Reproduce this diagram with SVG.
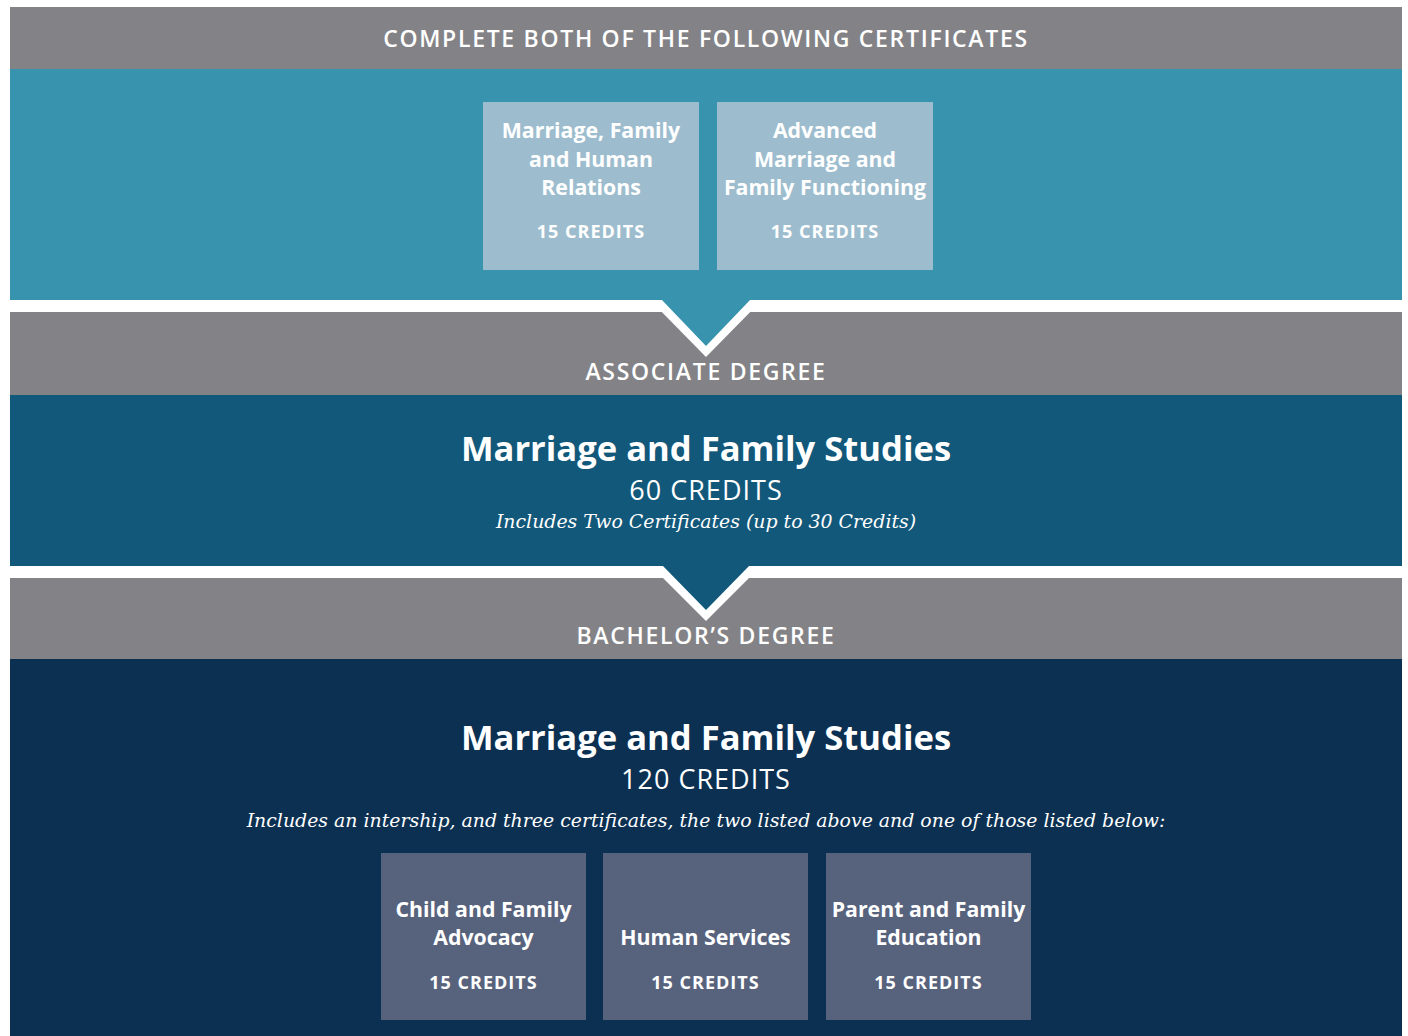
<svg xmlns="http://www.w3.org/2000/svg" width="1408" height="1036" viewBox="0 0 1408 1036">
<style>
text{fill:#fff;text-anchor:middle;font-family:"Open Sans","Noto Sans",sans-serif}
.hd{font-size:23px;font-weight:600;letter-spacing:1.7px}
.bx{font-size:21.3px;font-weight:700}
.cr{font-size:18px;font-weight:700;letter-spacing:1px}
.tt{font-size:34.6px;font-weight:700}
.cc{font-size:27px;font-weight:400;letter-spacing:1px}
.it{font-family:"DejaVu Serif","Liberation Serif",serif;font-style:italic;font-size:18.9px}
.gray{fill:#838387}
</style>
<rect width="1408" height="1036" fill="#fff"/>
<g id="certs-section">
<rect class="gray" x="10" y="7" width="1392" height="62"/>
<text class="hd" x="706" y="47">COMPLETE BOTH OF THE FOLLOWING CERTIFICATES</text>
<rect x="10" y="69" width="1392" height="231" fill="#3793ae"/>
</g>
<g id="cert1">
<rect x="483" y="102" width="216" height="168" fill="#9dbdce"/>
<text class="bx" x="591" y="138">Marriage, Family</text>
<text class="bx" x="591" y="166.5">and Human</text>
<text class="bx" x="591" y="195">Relations</text>
<text class="cr" x="591" y="237.5">15 CREDITS</text>
</g>
<g id="cert2">
<rect x="717" y="102" width="216" height="168" fill="#9dbdce"/>
<text class="bx" x="825" y="138">Advanced</text>
<text class="bx" x="825" y="166.5">Marriage and</text>
<text class="bx" x="825" y="195">Family Functioning</text>
<text class="cr" x="825" y="237.5">15 CREDITS</text>
</g>
<g id="associate">
<rect class="gray" x="10" y="312" width="1392" height="83"/>
<text class="hd" x="706" y="380">ASSOCIATE DEGREE</text>
<rect x="10" y="395" width="1392" height="171" fill="#12587a"/>
<text class="tt" x="706" y="461">Marriage and Family Studies</text>
<text class="cc" x="706" y="500">60 CREDITS</text>
<text class="it" x="706" y="528">Includes Two Certificates (up to 30 Credits)</text>
</g>
<g id="bachelor">
<rect class="gray" x="10" y="578" width="1392" height="81"/>
<text class="hd" x="706" y="644">BACHELOR’S DEGREE</text>
<rect x="10" y="659" width="1392" height="377" fill="#0b3052"/>
<text class="tt" x="706" y="750">Marriage and Family Studies</text>
<text class="cc" x="706" y="789">120 CREDITS</text>
<text class="it" x="706" y="827">Includes an intership, and three certificates, the two listed above and one of those listed below:</text>
</g>
<g id="connectors">
<polygon points="650,300 762,300 706,357" fill="#fff"/>
<polygon points="661,299 751,299 706,346" fill="#3793ae"/>
<polygon points="651,566 761,566 706,621" fill="#fff"/>
<polygon points="662,565 750,565 706,610" fill="#12587a"/>
</g>
<g id="cfa">
<rect x="381" y="853" width="205" height="167" fill="#57627d"/>
<text class="bx" x="483.5" y="917">Child and Family</text>
<text class="bx" x="483.5" y="945">Advocacy</text>
<text class="cr" x="483.5" y="988.5">15 CREDITS</text>
</g>
<g id="hs">
<rect x="603" y="853" width="205" height="167" fill="#57627d"/>
<text class="bx" x="705.5" y="945">Human Services</text>
<text class="cr" x="705.5" y="988.5">15 CREDITS</text>
</g>
<g id="pfe">
<rect x="826" y="853" width="205" height="167" fill="#57627d"/>
<text class="bx" x="928.5" y="917">Parent and Family</text>
<text class="bx" x="928.5" y="945">Education</text>
<text class="cr" x="928.5" y="988.5">15 CREDITS</text>
</g>
</svg>
